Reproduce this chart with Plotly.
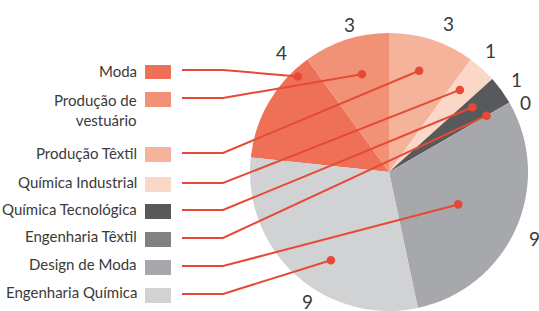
import math
import plotly.graph_objects as go

# ---- data ----
categories = ["Moda", "Produção de vestuário", "Produção Têxtil", "Química Industrial",
              "Química Tecnológica", "Engenharia Têxtil", "Design de Moda", "Engenharia Química"]
legend_labels = ["Moda", "Produção de<br>vestuário", "Produção Têxtil", "Química Industrial",
                 "Química Tecnológica", "Engenharia Têxtil", "Design de Moda", "Engenharia Química"]
values = [4, 3, 3, 1, 1, 0, 9, 9]
colors = ["#EE7056", "#F19276", "#F6B39C", "#FBD7C7", "#58595B", "#808184", "#A7A8AB", "#D1D2D4"]

# ---- layout constants (pixels) ----
W, H = 539, 311
CX, CY, R = 389, 172, 139
total = sum(values)
# slice that starts at 12 o'clock is Produção Têxtil (index 2)
start_offset = sum(values[:2]) / total * 360.0
rotation = -start_offset

legend_y = [70, 98, 153, 183, 210, 238, 266, 294]
label_y = [71, 110, 153, 182, 209, 236, 264, 292]
dot_frac_angle = [0.84, 0.57, 0.46, 0.4, 0.35, 0.5, 0.51, 0.42]
dot_frac_r = [0.95, 0.73, 0.76, 0.78, 0.76, 0.81, 0.55, 0.76]
val_angle_off = [18, 3, 4, -2, 0, 3, 0.6, -10]
val_r = [161, 153, 160, 158, 158, 153, 160, 153]

LINE = "#E64A35"
TXT = "#3A3A3A"
FONT = "Lato, Roboto, sans-serif"

fig = go.Figure()
fig.add_trace(go.Pie(
    labels=categories, values=values, sort=False, direction="clockwise",
    rotation=rotation, marker=dict(colors=colors, line=dict(width=0)),
    textinfo="none", hoverinfo="label+value", showlegend=False,
    domain=dict(x=[(CX - R) / W, (CX + R) / W], y=[max(0, (H - CY - R) / H), (H - CY + R) / H]),
))

def polar(angle_deg, r):
    a = math.radians(angle_deg)
    return CX + r * math.sin(a), CY - r * math.cos(a)

shapes = []
annotations = []
acc = 0.0
for i, v in enumerate(values):
    a0 = (rotation + acc / total * 360.0) % 360
    span = v / total * 360.0
    acc += v
    # legend square
    shapes.append(dict(type="rect", xref="x", yref="y",
                       x0=145, x1=171, y0=legend_y[i] - 6 + (1 if i == 0 else 0), y1=legend_y[i] + 9,
                       fillcolor=colors[i], line=dict(width=0)))
    # leader line + dot
    da = a0 + span * dot_frac_angle[i]
    dx, dy = polar(da, R * dot_frac_r[i])
    ly = legend_y[i]
    shapes.append(dict(type="path", xref="x", yref="y",
                       path=f"M 182 {ly} L 223 {ly} L {dx:.2f} {dy:.2f}",
                       line=dict(color=LINE, width=2)))
    shapes.append(dict(type="circle", xref="x", yref="y",
                       x0=dx - 4.3, x1=dx + 4.3, y0=dy - 4.3, y1=dy + 4.3,
                       fillcolor=LINE, line=dict(width=0)))
    annotations.append(dict(x=139, y=label_y[i], xref="x", yref="y", text=legend_labels[i],
                            xanchor="right", yanchor="middle", align="right", showarrow=False,
                            font=dict(family=FONT, size=15, color=TXT)))
    # value label
    va = a0 + span / 2 + val_angle_off[i]
    vx, vy = polar(va, val_r[i])
    annotations.append(dict(x=vx, y=vy, xref="x", yref="y", text=str(v),
                            xanchor="center", yanchor="middle", showarrow=False,
                            font=dict(family=FONT, size=19, color=TXT)))

fig.update_layout(
    width=W, height=H, margin=dict(l=0, r=0, t=0, b=0),
    paper_bgcolor="white", plot_bgcolor="rgba(0,0,0,0)",
    xaxis=dict(range=[0, W], visible=False, fixedrange=True),
    yaxis=dict(range=[H, 0], visible=False, fixedrange=True),
    shapes=shapes, annotations=annotations, showlegend=False,
)
fig.write_html("out.html", config={"displayModeBar": False},
               post_script="document.body.style.margin='0';")
